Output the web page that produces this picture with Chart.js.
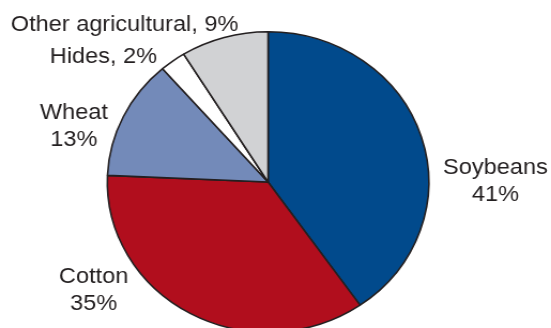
<!DOCTYPE html>
<html>
<head>
<meta charset="utf-8">
<script src="https://cdn.jsdelivr.net/npm/chart.js@4/dist/chart.umd.min.js"></script>
<style>
  html, body { margin: 0; padding: 0; background: #ffffff; overflow: hidden; }
  #wrap { width: 551px; height: 328px; overflow: hidden; position: relative; }
  #stretch { width: 515px; height: 360px; transform: scaleX(1.07); transform-origin: 0 0; }
  canvas { display: block; }
</style>
</head>
<body>
<div id="wrap"><div id="stretch"><canvas id="c" width="515" height="360"></canvas></div></div>
<script>
// ---- data ----
const categories = ["Soybeans", "Cotton", "Wheat", "Hides", "Other agricultural"];
const sliceShares = [40.3, 35.4, 12.9, 2.6, 8.8];
// rounded percentages printed in the labels
const labelPercents = [41, 35, 13, 2, 9];
const sliceColors = ["#014a8c", "#b10e1d", "#738ab9", "#ffffff", "#d1d2d4"];
// label layout: anchor in canvas px, two-line or single-line
const labelLayout = [
  { x: 463, y: 174, twoLine: true },
  { x: 87.5, y: 282.5, twoLine: true },
  { x: 69, y: 118.5, twoLine: true },
  { x: 96.7, y: 63.3, twoLine: false },
  { x: 116.4, y: 31.3, twoLine: false }
];

const labelPlugin = {
  id: 'sliceLabels',
  afterDraw(chart) {
    const ctx = chart.ctx;
    ctx.save();
    ctx.font = '22px "Liberation Sans", Arial, sans-serif';
    ctx.fillStyle = '#231f20';
    ctx.textAlign = 'center';
    ctx.textBaseline = 'alphabetic';
    chart.data.labels.forEach((lab, i) => {
      const v = labelPercents[i];
      const p = labelLayout[i];
      if (p.twoLine) {
        ctx.fillText(lab, p.x, p.y);
        ctx.fillText(v + '%', p.x, p.y + 27);
      } else {
        ctx.fillText(lab + ', ' + v + '%', p.x, p.y);
      }
    });
    ctx.restore();
  }
};

new Chart(document.getElementById('c'), {
  type: 'pie',
  data: {
    labels: categories,
    datasets: [{
      data: sliceShares,
      backgroundColor: sliceColors,
      borderColor: '#231f20',
      borderWidth: 1.6
    }]
  },
  options: {
    responsive: false,
    animation: false,
    layout: { padding: { top: 31, bottom: 27, left: 99.5, right: 113.5 } },
    plugins: { legend: { display: false }, tooltip: { enabled: false } }
  },
  plugins: [labelPlugin]
});
</script>
</body>
</html>
